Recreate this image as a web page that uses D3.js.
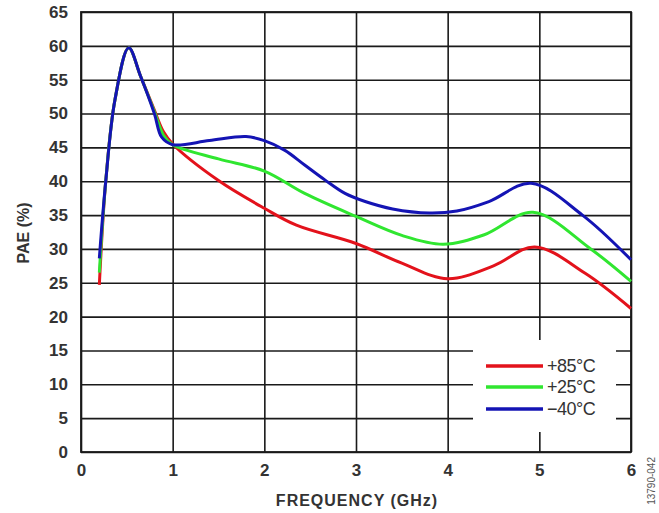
<!DOCTYPE html>
<html>
<head>
<meta charset="utf-8">
<script src="https://cdn.jsdelivr.net/npm/d3@7"></script>
<style>
  body { margin: 0; background: #fff; }
  svg { display: block; }
  .tick text { font-family: "Liberation Sans", Arial, sans-serif; font-weight: bold; fill: #333; }
  .axis-label { font-family: "Liberation Sans", Arial, sans-serif; font-weight: bold; fill: #333; }
</style>
</head>
<body>
<div id="vis_container"></div>
<script>
// frequency (GHz) / PAE (%)
var freq85 = [0.2, 0.27, 0.37, 0.52, 0.65, 0.8, 0.9, 1.0, 1.5, 2.0, 2.35, 3.0, 3.5, 4.0, 4.5, 4.95, 5.5, 6.0];
var pae85  = [24.7, 40, 52, 59.7, 55.5, 50.5, 47.3, 45.5, 40.1, 36.0, 33.5, 30.8, 27.9, 25.6, 27.5, 30.3, 26.4, 21.2];

var freq25 = [0.2, 0.27, 0.37, 0.52, 0.65, 0.8, 0.9, 1.0, 1.5, 2.0, 2.44, 3.0, 3.5, 3.95, 4.4, 4.93, 5.55, 6.0];
var pae25  = [26.5, 40, 52, 59.7, 55.5, 50.3, 46.8, 45.4, 43.3, 41.5, 38.2, 34.8, 32.0, 30.7, 32.1, 35.4, 30.1, 25.2];

var freqM40 = [0.2, 0.27, 0.37, 0.52, 0.65, 0.8, 0.88, 1.0, 1.4, 1.8, 2.0, 2.22, 2.44, 2.66, 2.88, 3.1, 3.4, 3.8, 4.1, 4.45, 4.91, 5.47, 6.0];
var paeM40  = [28.6, 40, 52, 59.7, 55.5, 50, 46.5, 45.4, 46.0, 46.6, 46.0, 44.6, 42.4, 40.2, 38.2, 37.0, 35.9, 35.3, 35.6, 37.0, 39.7, 35.0, 28.4];

var seriesNames = ["+85°C", "+25°C", "\u221240°C"];
var seriesColors = ["#e3121b", "#30e630", "#1414b4"];
var xTicks = [0, 1, 2, 3, 4, 5, 6];
var yTicks = d3.range(0, 70, 5);

var width = 659;
var height = 513;

var svg = d3.select("#vis_container")
    .append("svg")
    .attr("width", width)
    .attr("height", height);

var x = d3.scaleLinear()
    .domain([0, 6])
    .range([81, 631]);

var y = d3.scaleLinear()
    .domain([0, 65])
    .range([452, 12]);

// gridlines done with the axes themselves
svg.append("g")
    .attr("class", "axis")
    .attr("transform", "translate(0," + y(0) + ")")
    .call(d3.axisBottom(x).tickValues(xTicks).tickFormat(d3.format("d"))
        .tickSizeInner(-(y(0) - y(65))).tickSizeOuter(0).tickPadding(12))
    .call(function (g) { g.select(".domain").remove(); })
    .call(function (g) {
        g.selectAll(".tick line").attr("stroke", "#1a1a1a").attr("stroke-width", 1.6);
        g.selectAll(".tick text").style("font-size", "17px");
    });

svg.append("g")
    .attr("class", "axis")
    .attr("transform", "translate(" + x(0) + ",0)")
    .call(d3.axisLeft(y).tickValues(yTicks).tickFormat(d3.format("d"))
        .tickSizeInner(-(x(6) - x(0))).tickSizeOuter(0).tickPadding(13))
    .call(function (g) { g.select(".domain").remove(); })
    .call(function (g) {
        g.selectAll(".tick line").attr("stroke", "#1a1a1a").attr("stroke-width", 1.6);
        g.selectAll(".tick text").style("font-size", "17px");
    });

// legend box blanks the grid behind it
svg.append("rect")
    .attr("x", 473)
    .attr("y", 340)
    .attr("width", 143)
    .attr("height", 92)
    .attr("fill", "#fff");

svg.append("rect")
    .attr("x", x(0))
    .attr("y", y(65))
    .attr("width", x(6) - x(0))
    .attr("height", y(0) - y(65))
    .attr("fill", "none")
    .attr("stroke", "#1a1a1a")
    .attr("stroke-width", 1.8);

var series = [
    { freq: freq85, pae: pae85 },
    { freq: freq25, pae: pae25 },
    { freq: freqM40, pae: paeM40 }
];

var lineFunc = d3.line()
    .x(function (d) { return x(d[0]); })
    .y(function (d) { return y(d[1]); })
    .curve(d3.curveCatmullRom.alpha(0.5));

series.forEach(function (s, i) {
    var pts = s.freq.map(function (f, j) { return [f, s.pae[j]]; });
    svg.append("path")
        .attr("d", lineFunc(pts))
        .attr("stroke", seriesColors[i])
        .attr("stroke-width", 3)
        .attr("stroke-linejoin", "round")
        .attr("fill", "none");
});

// legend
var legendY = [366, 387, 409];
seriesNames.forEach(function (name, i) {
    svg.append("line")
        .attr("x1", 486).attr("x2", 543)
        .attr("y1", legendY[i]).attr("y2", legendY[i])
        .attr("stroke", seriesColors[i])
        .attr("stroke-width", 3.5);
    svg.append("text")
        .attr("x", 547)
        .attr("y", legendY[i] + 6)
        .style("font-family", "'Liberation Sans Narrow', 'Liberation Sans', Arial, sans-serif")
        .style("font-size", "18px")
        .style("letter-spacing", "-0.5px")
        .style("fill", "#333")
        .text(name);
});

// axis labels
svg.append("text")
    .attr("class", "axis-label")
    .attr("x", 357)
    .attr("y", 506)
    .style("text-anchor", "middle")
    .style("font-size", "16px")
    .style("letter-spacing", "1px")
    .text("FREQUENCY (GHz)");

svg.append("text")
    .attr("class", "axis-label")
    .attr("transform", "translate(29,233) rotate(-90)")
    .style("text-anchor", "middle")
    .style("font-size", "16px")
    .text("PAE (%)");

svg.append("text")
    .attr("transform", "translate(655,457) rotate(-90)")
    .style("text-anchor", "end")
    .style("font-family", "'Liberation Sans Narrow', 'Liberation Sans', Arial, sans-serif")
    .style("font-size", "10px")
    .style("fill", "#555")
    .text("13790-042");
</script>
</body>
</html>
